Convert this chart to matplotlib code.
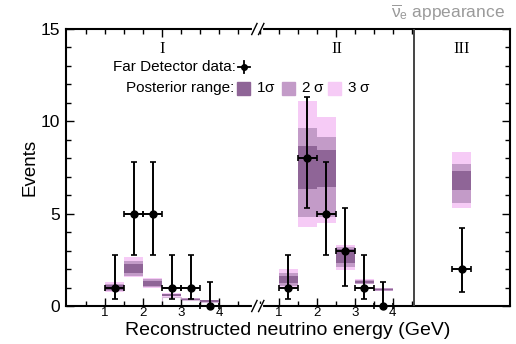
import matplotlib
matplotlib.use("Agg")
import matplotlib.pyplot as plt
import numpy as np
from matplotlib.lines import Line2D
from matplotlib.patches import Rectangle
import matplotlib.transforms as mtransforms

plt.rcParams['font.family'] = ['Liberation Sans', 'DejaVu Sans']
plt.rcParams['mathtext.fontset'] = 'custom'
plt.rcParams['mathtext.rm'] = 'Liberation Sans'
plt.rcParams['mathtext.it'] = 'Liberation Sans'

# bin centres (GeV) used in panels I and II
e_centers = [1.25, 1.75, 2.25, 2.75, 3.25, 3.75]

# panel I : data + Feldman-Cousins intervals
I_counts = [1, 5, 5, 1, 1, 0]
I_err_lo = [0.37, 2.75, 2.75, 0.37, 0.37, 0.0]
I_err_hi = [2.75, 7.81, 7.81, 2.75, 2.75, 1.29]
# panel I : posterior bands
I_1s_lo = [0.88, 1.80, 1.10, 0.55, 0.34, 0.23]
I_1s_hi = [1.12, 2.28, 1.37, 0.63, 0.40, 0.30]
I_2s_lo = [0.80, 1.64, 1.05, 0.52, 0.33, 0.21]
I_2s_hi = [1.20, 2.45, 1.45, 0.66, 0.41, 0.31]
I_3s_lo = [0.74, 1.55, 1.00, 0.50, 0.32, 0.20]
I_3s_hi = [1.29, 2.65, 1.52, 0.68, 0.42, 0.32]

# panel II
II_counts = [1, 8, 5, 3, 1, 0]
II_err_lo = [0.37, 5.30, 2.75, 1.10, 0.37, 0.0]
II_err_hi = [2.75, 11.32, 7.81, 5.30, 2.75, 1.29]
II_1s_lo = [1.25, 6.33, 6.46, 2.31, 1.22, 0.85]
II_1s_hi = [1.60, 8.68, 8.45, 3.07, 1.38, 0.93]
II_2s_lo = [1.10, 4.84, 4.84, 2.13, 1.19, 0.83]
II_2s_hi = [1.77, 9.62, 9.17, 3.21, 1.42, 0.95]
II_3s_lo = [1.02, 4.29, 4.48, 1.97, 1.17, 0.81]
II_3s_hi = [1.98, 11.10, 10.25, 3.30, 1.47, 0.98]

# panel III (single bin)
III_counts = [2]
III_err_lo = [0.74]
III_err_hi = [4.25]
III_1s = [6.28, 7.32]
III_2s = [5.60, 7.67]
III_3s = [5.30, 8.36]

C1 = '#8f6597'
C2 = '#c39bc8'
C3 = '#f6cbf6'

# layout of the broken axis (x in "GeV" units, panel II shifted)
OFF2 = 4.57
X3 = 10.39
SEP = 9.13
BW = 0.5

fig = plt.figure(figsize=(5.16, 3.44), dpi=100)
ax = fig.add_axes([66/516, 1-306/344, 444/516, 277/344])

def fx(px):
    return px / 516.0

def fy(py):
    return 1 - py / 344.0

def bands(xs, lo3, hi3, lo2, hi2, lo1, hi1, w=BW):
    xs = np.asarray(xs)
    for lo, hi, c in [(lo3, hi3, C3), (lo2, hi2, C2), (lo1, hi1, C1)]:
        lo = np.asarray(lo); hi = np.asarray(hi)
        ax.bar(xs, hi - lo, bottom=lo, width=w, color=c, linewidth=0, zorder=2)

def points(xs, n, lo, hi):
    n = np.asarray(n, float)
    ax.errorbar(xs, n, yerr=[n - np.asarray(lo), np.asarray(hi) - n], xerr=BW/2,
                fmt='o', color='black', ms=5, elinewidth=1.4, capsize=2,
                capthick=1.2, zorder=4, clip_on=False)

xI = np.array(e_centers)
xII = xI + OFF2

bands(xI, I_3s_lo, I_3s_hi, I_2s_lo, I_2s_hi, I_1s_lo, I_1s_hi)
# low bins of panel I: open lower 3 sigma outline down to zero
ax.bar(xI[3:], np.asarray(I_3s_lo[3:]), bottom=0, width=BW, facecolor='none',
       edgecolor='#d9bcdc', linewidth=0.8, zorder=1)
bands(xII, II_3s_lo, II_3s_hi, II_2s_lo, II_2s_hi, II_1s_lo, II_1s_hi)
bands([X3], [III_3s[0]], [III_3s[1]], [III_2s[0]], [III_2s[1]], [III_1s[0]], [III_1s[1]])

points(xI, I_counts, I_err_lo, I_err_hi)
points(xII, II_counts, II_err_lo, II_err_hi)
points([X3], III_counts, III_err_lo, III_err_hi)

ax.axvline(SEP, color='#444444', lw=1.4, zorder=3)

ax.set_xlim(-0.03, 11.66)
ax.set_ylim(0, 15)

# ticks
maj = [1, 2, 3, 4]
halves = [0.5, 1.5, 2.5, 3.5, 4.5]
ax.set_xticks([m for m in maj] + [m + OFF2 for m in maj],
              labels=[str(m) for m in maj] * 2)
ax.set_xticks(halves + [h + OFF2 for h in halves], minor=True)
ax.set_yticks([0, 5, 10, 15])
ax.set_yticks(range(16), minor=True)
ax.tick_params(axis='both', which='both', direction='in', width=1, right=True)
ax.tick_params(axis='both', which='major', length=6)
ax.tick_params(axis='both', which='minor', length=3.5)
ax.tick_params(axis='x', labelsize=9.5, pad=0.5)
ax.tick_params(axis='y', labelsize=12.5, pad=4)

top = ax.secondary_xaxis('top')
top.set_xticks([2.5, 2.5 + OFF2], labels=['', ''])
top.set_xticks([0.5, 1, 1.5, 2, 3, 3.5, 4, 4.5] +
               [v + OFF2 for v in [0.5, 1, 1.5, 2, 3, 3.5, 4, 4.5]], minor=True)
top.tick_params(which='both', direction='in', width=1)
top.tick_params(which='major', length=6)
top.tick_params(which='minor', length=3.5)
top.spines['top'].set_visible(False)

for s in ax.spines.values():
    s.set_linewidth(1.5)

# axis break marks
bt = mtransforms.blended_transform_factory(ax.transData, ax.transAxes)
for yy in [0, 1]:
    ax.plot([4.93, 5.11], [yy, yy], color='white', lw=3, transform=bt,
            clip_on=False, zorder=6)
    for xc in [4.93, 5.11]:
        ax.plot([xc - 0.07, xc + 0.07], [yy - 0.02, yy + 0.02], color='black',
                lw=1.0, transform=bt, clip_on=False, zorder=7)

ax.set_ylabel('Events', fontsize=13.5, labelpad=2)
ax.set_xlabel('Reconstructed neutrino energy (GeV)', fontsize=14)
ax.xaxis.set_label_coords(0.5, -0.058)

# panel labels
for xx, lab in [(2.5, 'I'), (7.1, 'II'), (X3, 'III')]:
    ax.text(xx, 13.9, lab, family='Liberation Serif', fontsize=12,
            ha='center', va='center')

fig.text(fx(505), fy(13), r'$\overline{\nu}_{\mathrm{e}}$ appearance',
         color='#9a9a9a', fontsize=12.5, ha='right', va='center')

# legend
fig.text(fx(236), fy(67), 'Far Detector data:', fontsize=11, ha='right', va='center')
fig.text(fx(234), fy(88), 'Posterior range:', fontsize=11, ha='right', va='center')
cx, cy = 243.5, 67
fig.add_artist(Line2D([fx(cx - 6), fx(cx + 6)], [fy(cy), fy(cy)], color='black', lw=1.3))
fig.add_artist(Line2D([fx(cx), fx(cx)], [fy(cy - 6), fy(cy + 6)], color='black', lw=1.3))
fig.add_artist(Line2D([fx(cx)], [fy(cy)], marker='o', ms=4, color='black'))
for x0, c, lab in [(237, C1, r'1$\sigma$'), (282, C2, r'2 $\sigma$'), (328, C3, r'3 $\sigma$')]:
    fig.add_artist(Rectangle((fx(x0), fy(95)), 13/516, 13/344, color=c,
                             transform=fig.transFigure))
    fig.text(fx(x0 + 19), fy(88), lab, fontsize=11, ha='left', va='center')

fig.savefig('out.png', dpi=100)
